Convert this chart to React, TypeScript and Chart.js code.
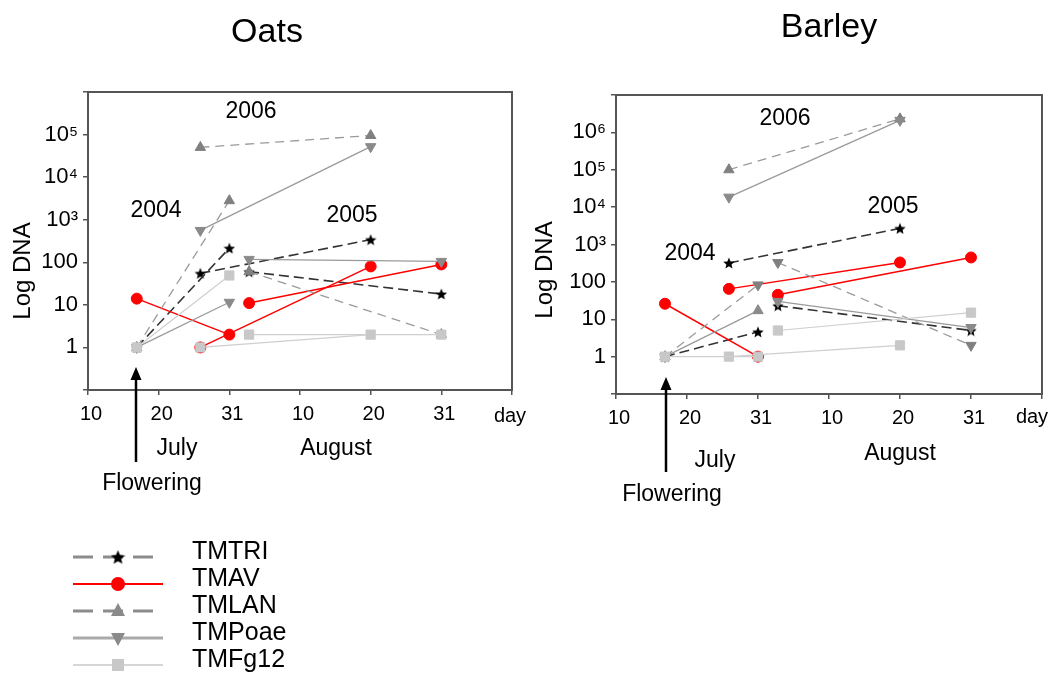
import React, { useEffect, useRef } from 'react';
import { Chart, registerables } from 'chart.js';
Chart.register(...registerables);

const FONT = '"Liberation Sans", Arial, Helvetica, sans-serif';

// x axis: equally spaced ticks (Jul 10, Jul 20, Jul 31, Aug 10, Aug 20, Aug 31, end)
const xTickLabels = ['10', '20', '31', '10', '20', '31', ''];
// sampling positions on that axis for each season
const x2004 = [0.69, 2];    // flowering (~Jul 17) -> Jul 31
const x2006 = [1.59, 4];    // ~Jul 26 -> Aug 20
const x2005 = [2.28, 5];    // ~Aug 3 -> Aug 31

const seriesNames = ['TMTRI', 'TMAV', 'TMLAN', 'TMPoae', 'TMFg12'];

// Oats
const oatsTMTRI2004 = [1, 215];
const oatsTMTRI2006 = [55, 340];
const oatsTMTRI2005 = [60, 18];
const oatsTMAV2004 = [14, 2];
const oatsTMAV2006 = [1, 80];
const oatsTMAV2005 = [11, 89];
const oatsTMLAN2004 = [1, 2800];
const oatsTMLAN2006 = [50000, 95000];
const oatsTMLAN2005 = [60, 2];
const oatsTMPoae2004 = [1, 11.5];
const oatsTMPoae2006 = [560, 52000];
const oatsTMPoae2005 = [117, 105];
const oatsTMFg122004 = [1, 49];
const oatsTMFg122006 = [1, 2];
const oatsTMFg122005 = [2, 2];

// Barley
const barleyTMTRI2004 = [1, 4.6];
const barleyTMTRI2006 = [320, 2700];
const barleyTMTRI2005 = [23, 5];
const barleyTMAV2004 = [26, 1];
const barleyTMAV2006 = [65, 330];
const barleyTMAV2005 = [45, 450];
const barleyTMLAN2004 = [1, 83];
const barleyTMLAN2006 = [100000, 2300000];
const barleyTMLAN2005 = [330, 2];
const barleyTMPoae2004 = [1, 17];
const barleyTMPoae2006 = [18500, 2100000];
const barleyTMPoae2005 = [30, 6];
const barleyTMFg122004 = [1, 1];
const barleyTMFg122006 = [1, 2];
const barleyTMFg122005 = [5, 15];

const yearX = [x2004, x2006, x2005];

const oatsData: Record<string, number[][]> = {
  TMTRI: [oatsTMTRI2004, oatsTMTRI2006, oatsTMTRI2005],
  TMAV: [oatsTMAV2004, oatsTMAV2006, oatsTMAV2005],
  TMLAN: [oatsTMLAN2004, oatsTMLAN2006, oatsTMLAN2005],
  TMPoae: [oatsTMPoae2004, oatsTMPoae2006, oatsTMPoae2005],
  TMFg12: [oatsTMFg122004, oatsTMFg122006, oatsTMFg122005],
};
const barleyData: Record<string, number[][]> = {
  TMTRI: [barleyTMTRI2004, barleyTMTRI2006, barleyTMTRI2005],
  TMAV: [barleyTMAV2004, barleyTMAV2006, barleyTMAV2005],
  TMLAN: [barleyTMLAN2004, barleyTMLAN2006, barleyTMLAN2005],
  TMPoae: [barleyTMPoae2004, barleyTMPoae2006, barleyTMPoae2005],
  TMFg12: [barleyTMFg122004, barleyTMFg122006, barleyTMFg122005],
};

function makeStar(size: number, color: string) {
  const c = document.createElement('canvas');
  c.width = size;
  c.height = size;
  const ctx = c.getContext('2d')!;
  ctx.fillStyle = color;
  ctx.beginPath();
  const cx = size / 2, cy = size / 2 + size * 0.05, R = size / 2, r = R * 0.45;
  for (let i = 0; i < 10; i++) {
    const a = -Math.PI / 2 + (i * Math.PI) / 5;
    const rad = i % 2 ? r : R;
    ctx.lineTo(cx + rad * Math.cos(a), cy + rad * Math.sin(a));
  }
  ctx.closePath();
  ctx.fill();
  return c;
}

const styles: Record<string, any> = {
  TMTRI: { line: '#333333', dash: [10, 5], width: 1.6, point: 'star', pColor: '#000000', radius: 6, rot: 0 },
  TMAV: { line: '#ff0000', dash: [], width: 1.5, point: 'circle', pColor: '#ff0000', radius: 5.5, rot: 0 },
  TMLAN: { line: '#9a9a9a', dash: [9, 6], width: 1.3, point: 'triangle', pColor: '#808080', radius: 6, rot: 0 },
  TMPoae: { line: '#9a9a9a', dash: [], width: 1.3, point: 'triangle', pColor: '#8a8a8a', radius: 6, rot: 180 },
  TMFg12: { line: '#cfcfcf', dash: [], width: 1.2, point: 'rect', pColor: '#c8c8c8', radius: 6.5, rot: 0 },
};

function text(ctx: CanvasRenderingContext2D, s: string, x: number, y: number, size: number, align: CanvasTextAlign = 'center') {
  ctx.save();
  ctx.font = `${size}px ${FONT}`;
  ctx.fillStyle = '#000';
  ctx.textAlign = align;
  ctx.textBaseline = 'alphabetic';
  ctx.fillText(s, x, y);
  ctx.restore();
}

function drawMarker(ctx: CanvasRenderingContext2D, kind: string, x: number, y: number, color: string, star?: HTMLCanvasElement) {
  ctx.save();
  ctx.fillStyle = color;
  ctx.beginPath();
  if (kind === 'star' && star) {
    ctx.drawImage(star, x - star.width / 2, y - star.height / 2);
  } else if (kind === 'circle') {
    ctx.arc(x, y, 7, 0, Math.PI * 2);
    ctx.fill();
  } else if (kind === 'up') {
    ctx.moveTo(x, y - 8);
    ctx.lineTo(x + 7, y + 5);
    ctx.lineTo(x - 7, y + 5);
    ctx.closePath();
    ctx.fill();
  } else if (kind === 'down') {
    ctx.moveTo(x, y + 8);
    ctx.lineTo(x + 7, y - 5);
    ctx.lineTo(x - 7, y - 5);
    ctx.closePath();
    ctx.fill();
  } else if (kind === 'square') {
    ctx.fillRect(x - 6, y - 6, 12, 12);
  }
  ctx.restore();
}

type Panel = {
  key: string;
  left: number;
  width: number;
  padding: { left: number; right: number; top: number; bottom: number };
  yMax: number;
  data: Record<string, number[][]>;
  rotOverride: Record<string, number>;
  title: [string, number, number];
  logDna: [number, number];
  years: [string, number, number][];
  july: [number, number];
  august: [number, number];
  flowering: [number, number];
  arrow: [number, number, number];
  day: [number, number];
  legend: boolean;
};

const panels: Panel[] = [
  {
    key: 'oats', left: 0, width: 530,
    padding: { left: 18, right: 18, top: 92, bottom: 251 },
    yMax: 1e6, data: oatsData, rotOverride: {},
    title: ['Oats', 267, 42], logDna: [30, 271],
    years: [['2006', 251, 118], ['2004', 156, 217], ['2005', 352, 222]],
    july: [177, 455], august: [336, 455], flowering: [152, 490],
    arrow: [136, 367, 462], day: [510, 422], legend: true,
  },
  {
    key: 'barley', left: 527, width: 527,
    padding: { left: 19, right: 12, top: 95, bottom: 247 },
    yMax: 1e7, data: barleyData,
    rotOverride: { 'TMLAN-0': 180, 'TMLAN-2': 180, 'TMPoae-0': 0 },
    title: ['Barley', 302, 37], logDna: [25, 270],
    years: [['2006', 258, 125], ['2005', 366, 213], ['2004', 163, 260]],
    july: [188, 467], august: [373, 460], flowering: [145, 501],
    arrow: [139, 377, 472], day: [505, 423], legend: false,
  },
];

const legendRowsY = [557, 584, 611, 638, 665];
const legendMarkers = ['star', 'circle', 'up', 'down', 'square'];

const SUP: Record<string, string> = { '3': '\u00b3', '4': '\u2074', '5': '\u2075', '6': '\u2076', '7': '\u2077' };

function ChartPanel({ p }: { p: Panel }) {
  const ref = useRef<HTMLCanvasElement>(null);
  useEffect(() => {
    const star = makeStar(12, '#000');
    const legendStar = makeStar(15, '#000');
    const datasets: any[] = [];
    // TMFg12 first so it is drawn on top, like the reference
    [...seriesNames].reverse().forEach((name) => {
      const st = styles[name];
      p.data[name].forEach((vals, yi) => {
        const rk = `${name}-${yi}`;
        datasets.push({
          label: name,
          data: vals.map((v, i) => ({ x: yearX[yi][i], y: v })),
          borderColor: st.line,
          borderDash: st.dash,
          borderWidth: st.width,
          pointStyle: st.point === 'star' ? star : st.point,
          pointRadius: st.radius,
          pointRotation: rk in p.rotOverride ? p.rotOverride[rk] : st.rot,
          pointBackgroundColor: st.pColor,
          pointBorderColor: st.pColor,
          pointBorderWidth: 1,
          fill: false,
          tension: 0,
          showLine: true,
        });
      });
    });

    const decades: number[] = [];
    for (let e = -1; Math.pow(10, e) <= p.yMax * 1.0001; e++) decades.push(Math.pow(10, e));

    const annot = {
      id: 'annot' + p.key,
      afterDraw(chart: any) {
        const ctx: CanvasRenderingContext2D = chart.ctx;
        const a = chart.chartArea;
        // frame top / right
        ctx.save();
        ctx.strokeStyle = '#555';
        ctx.lineWidth = 2;
        ctx.beginPath();
        ctx.moveTo(a.left - 1, a.top);
        ctx.lineTo(a.right, a.top);
        ctx.lineTo(a.right, a.bottom + 1);
        ctx.stroke();
        ctx.restore();

        text(ctx, p.title[0], p.title[1], p.title[2], 34);
        ctx.save();
        ctx.translate(p.logDna[0], p.logDna[1]);
        ctx.rotate(-Math.PI / 2);
        text(ctx, 'Log DNA', 0, 0, 24);
        ctx.restore();
        p.years.forEach(([s, x, y]) => text(ctx, s, x, y, 23));
        text(ctx, 'July', p.july[0], p.july[1], 23);
        text(ctx, 'August', p.august[0], p.august[1], 23);
        text(ctx, 'Flowering', p.flowering[0], p.flowering[1], 23);
        text(ctx, 'day', p.day[0], p.day[1], 20);

        // arrow
        const [ax, tip, tail] = p.arrow;
        ctx.save();
        ctx.strokeStyle = '#000';
        ctx.fillStyle = '#000';
        ctx.lineWidth = 2.5;
        ctx.beginPath();
        ctx.moveTo(ax, tail);
        ctx.lineTo(ax, tip + 10);
        ctx.stroke();
        ctx.beginPath();
        ctx.moveTo(ax, tip);
        ctx.lineTo(ax + 5.5, tip + 13);
        ctx.lineTo(ax - 5.5, tip + 13);
        ctx.closePath();
        ctx.fill();
        ctx.restore();

        if (p.legend) {
          seriesNames.forEach((name, i) => {
            const y = legendRowsY[i];
            ctx.save();
            if (name === 'TMTRI' || name === 'TMLAN') {
              ctx.strokeStyle = '#8c8c8c';
              ctx.lineWidth = 3;
              ctx.setLineDash([20, 10]);
            } else if (name === 'TMAV') {
              ctx.strokeStyle = '#ff0000';
              ctx.lineWidth = 2;
            } else if (name === 'TMPoae') {
              ctx.strokeStyle = '#aaaaaa';
              ctx.lineWidth = 3;
            } else {
              ctx.strokeStyle = '#c8c8c8';
              ctx.lineWidth = 1.5;
            }
            ctx.beginPath();
            ctx.moveTo(73, y);
            ctx.lineTo(163, y);
            ctx.stroke();
            ctx.restore();
            const col = name === 'TMTRI' ? '#000' : name === 'TMAV' ? '#ff0000' : name === 'TMFg12' ? '#c8c8c8' : '#8a8a8a';
            drawMarker(ctx, legendMarkers[i], 118, y, col, legendStar);
            text(ctx, name, 192, y + 2, 25, 'left');
          });
        }
      },
    };

    const chart = new Chart(ref.current!, {
      type: 'line',
      data: { datasets },
      options: {
        animation: false,
        responsive: false,
        events: [],
        layout: { padding: p.padding },
        plugins: { legend: { display: false }, title: { display: false }, tooltip: { enabled: false } },
        scales: {
          x: {
            type: 'linear',
            min: 0,
            max: 6,
            afterBuildTicks: (s: any) => {
              s.ticks = [0, 1, 2, 3, 4, 5, 6].map((v) => ({ value: v }));
            },
            ticks: {
              callback: (v: any) => xTickLabels[Math.round(Number(v))] ?? '',
              font: { family: FONT, size: 20 },
              color: '#000',
              padding: 7,
              maxRotation: 0,
              autoSkip: false,
              labelOffset: 3,
            },
            grid: { drawOnChartArea: false, drawTicks: true, tickLength: 5, color: '#555', lineWidth: 1.5 },
            border: { display: true, color: '#555', width: 2 },
            afterFit: (s: any) => {
              s.height = 40;
              s.paddingLeft = 0;
              s.paddingRight = 0;
            },
          },
          y: {
            type: 'logarithmic',
            min: 0.1,
            max: p.yMax,
            afterBuildTicks: (s: any) => {
              s.ticks = decades.map((v) => ({ value: v }));
            },
            ticks: {
              callback: (v: any) => {
                const e = Math.round(Math.log10(Number(v)));
                if (e < 0 || Math.pow(10, e) >= p.yMax) return '';
                if (e <= 2) return String(Math.pow(10, e));
                return '10' + SUP[String(e)];
              },
              font: { family: FONT, size: 22 },
              color: '#000',
              padding: 5,
              autoSkip: false,
            },
            grid: { drawOnChartArea: false, drawTicks: true, tickLength: 5, color: '#555', lineWidth: 1.5 },
            border: { display: true, color: '#555', width: 2 },
            afterFit: (s: any) => {
              s.width = 70;
              s.paddingTop = 0;
              s.paddingBottom = 0;
            },
          },
        },
      },
      plugins: [annot],
    } as any);
    return () => chart.destroy();
  }, [p]);
  return (
    <canvas
      ref={ref}
      width={p.width}
      height={681}
      style={{ position: 'absolute', left: p.left, top: 0, width: p.width, height: 681 }}
    />
  );
}

export default function App() {
  return (
    <div style={{ position: 'fixed', left: 0, top: 0, width: 1054, height: 681, background: '#fff', overflow: 'hidden' }}>
      {panels.map((p) => (
        <ChartPanel key={p.key} p={p} />
      ))}
    </div>
  );
}
